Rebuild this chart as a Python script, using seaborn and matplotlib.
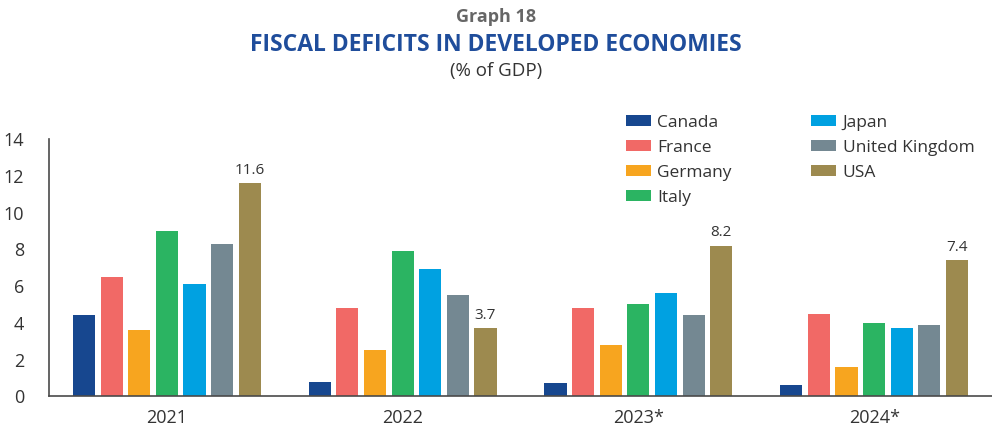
import matplotlib
matplotlib.use("Agg")
import matplotlib.pyplot as plt
from matplotlib.patches import Patch
from matplotlib import font_manager
import seaborn as sns
import pandas as pd

# Data: fiscal deficits, % of GDP
years = ["2021", "2022", "2023*", "2024*"]
countries = ["Canada", "France", "Germany", "Italy", "Japan", "United Kingdom", "USA"]
canada = [4.4, 0.8, 0.7, 0.6]
france = [6.5, 4.8, 4.8, 4.5]
germany = [3.6, 2.5, 2.8, 1.6]
italy = [9.0, 7.9, 5.0, 4.0]
japan = [6.1, 6.9, 5.6, 3.7]
united_kingdom = [8.3, 5.5, 4.4, 3.9]
usa = [11.6, 3.7, 8.2, 7.4]
y_ticks = [0, 2, 4, 6, 8, 10, 12, 14]

colors = ["#17478F", "#F16966", "#F7A51F", "#2BB462", "#00A1E1", "#748892", "#9D8A4F"]

series = [canada, france, germany, italy, japan, united_kingdom, usa]
rows = []
for name, vals in zip(countries, series):
    for yr, v in zip(years, vals):
        rows.append({"year": yr, "country": name, "value": v})
df = pd.DataFrame(rows)

sns.set_theme(style="white")
names = {f.name for f in font_manager.fontManager.ttflist}
base_font = "Open Sans" if "Open Sans" in names else "DejaVu Sans"
plt.rcParams["font.family"] = [base_font, "DejaVu Sans"]

text_color = "#333333"
axis_color = "#4a4a4a"

fig = plt.figure(figsize=(9.92, 4.28), dpi=100)
ax = fig.add_axes([49 / 992, 31.7 / 428, 1 - 49 / 992, 257.3 / 428])

sns.barplot(data=df, x="year", y="value", hue="country", order=years,
            hue_order=countries, palette=colors, width=0.82, gap=0.2,
            saturation=1, ax=ax, legend=False, errorbar=None)
for p in ax.patches:
    p.set_edgecolor("none")

# Value labels above the USA bars
for i, v in enumerate(usa):
    xc = i + 0.82 / 2 - 0.82 / 7 / 2
    ax.annotate(f"{v:.1f}", xy=(xc, v), xytext=(0, 4), textcoords="offset points",
                ha="center", va="bottom", fontsize=11, color=text_color)

ax.set_ylim(0, 14)
ax.set_xlim(-0.5, 3.46)
ax.set_yticks(y_ticks)
ax.set_yticklabels([str(t) for t in y_ticks])
ax.set_xticks(range(len(years)))
ax.set_xticklabels(years)
ax.set_xticks([-0.5, 0.5, 1.5, 2.5, 3.5], minor=True)
ax.tick_params(axis="x", which="major", length=0, pad=9, labelsize=13, labelcolor=text_color)
ax.tick_params(axis="x", which="minor", length=7, width=1.2, color=axis_color, direction="out")
ax.tick_params(axis="y", length=8, width=1.2, color=axis_color, pad=10, labelsize=13,
               labelcolor=text_color, direction="out")
ax.set_xlabel("")
ax.set_ylabel("")
for s in ["top", "right"]:
    ax.spines[s].set_visible(False)
for s in ["left", "bottom"]:
    ax.spines[s].set_color(axis_color)
    ax.spines[s].set_linewidth(1.2)
ax.grid(False)

handles = [Patch(facecolor=c, edgecolor="none") for c in colors]
fig.legend(handles, countries, ncol=2, loc="upper left",
           bbox_to_anchor=(617 / 992, 1 - 106 / 428), frameon=False,
           fontsize=12.5, labelcolor=text_color, handlelength=1.45, handleheight=0.6,
           handletextpad=0.35, columnspacing=4.6, labelspacing=0.52, borderpad=0)

fig.text(0.5, 1 - 17 / 428, "Graph 18", ha="center", va="center", fontsize=13,
         fontweight="bold", color="#666666")
fig.text(0.5, 1 - 45 / 428, "FISCAL DEFICITS IN DEVELOPED ECONOMIES", ha="center",
         va="center", fontsize=16.5, fontweight="bold", color="#1F4D9B")
fig.text(0.5, 1 - 71 / 428, "(% of GDP)", ha="center", va="center", fontsize=13.5,
         color=text_color)

fig.savefig("out.png", dpi=100, facecolor="white")
